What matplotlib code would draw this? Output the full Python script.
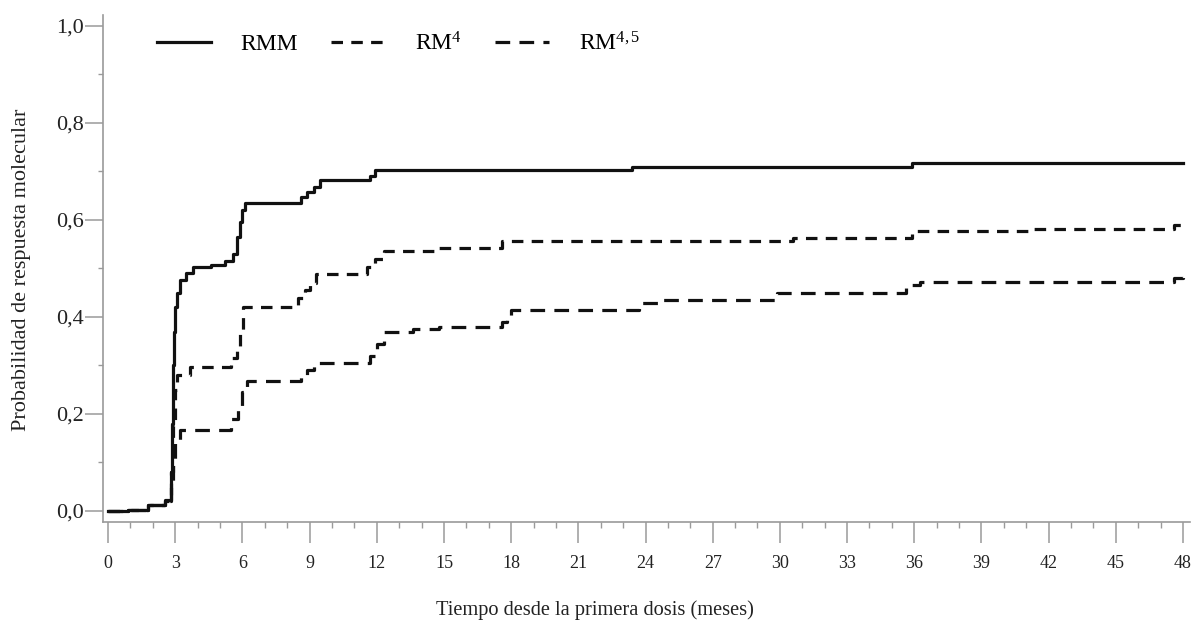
import numpy as np
import matplotlib
matplotlib.use("Agg")
import matplotlib.pyplot as plt
from matplotlib.ticker import MultipleLocator

# tiempos (meses) y probabilidad acumulada, escalones
rmm_t = [0, 0.9, 1.8, 2.55, 2.8, 2.85, 2.9, 2.95, 3.0, 3.1, 3.2, 3.5, 3.8, 4.6, 5.2,
         5.6, 5.75, 5.9, 6.0, 6.1, 8.6, 8.9, 9.2, 9.45, 11.7, 11.9, 23.4, 35.9, 48]
rmm_v = [0, 0.003, 0.012, 0.022, 0.08, 0.18, 0.30, 0.37, 0.42, 0.45, 0.477, 0.49, 0.503, 0.508, 0.515,
         0.53, 0.565, 0.595, 0.62, 0.636, 0.648, 0.658, 0.668, 0.682, 0.69, 0.703, 0.71, 0.718, 0.718]

rm4_t = [0, 0.9, 1.8, 2.55, 2.8, 2.9, 3.0, 3.1, 3.65, 5.5, 5.75, 5.9, 6.04, 8.5, 8.8, 9.0, 9.3,
         11.55, 11.9, 12.3, 14.8, 17.6, 30.6, 35.9, 41.3, 47.6, 47.9, 48]
rm4_v = [0, 0.003, 0.012, 0.02, 0.08, 0.18, 0.25, 0.28, 0.297, 0.315, 0.332, 0.37, 0.421, 0.44, 0.456, 0.47, 0.488,
         0.504, 0.52, 0.536, 0.543, 0.556, 0.563, 0.577, 0.582, 0.59, 0.598, 0.598]

rm45_t = [0, 0.9, 1.8, 2.55, 2.8, 2.9, 3.0, 3.2, 5.5, 5.8, 6.0, 6.2, 8.6, 8.9, 9.2, 11.7, 12.0, 12.3,
          13.6, 14.8, 17.6, 17.8, 18.0, 23.7, 24.6, 29.85, 35.65, 35.9, 36.25, 47.6, 48]
rm45_v = [0, 0.003, 0.012, 0.02, 0.06, 0.10, 0.14, 0.167, 0.19, 0.215, 0.245, 0.267, 0.28, 0.29, 0.305, 0.32, 0.345, 0.37,
          0.375, 0.38, 0.39, 0.40, 0.414, 0.429, 0.435, 0.449, 0.46, 0.465, 0.473, 0.48, 0.485]

etiquetas = ["RMM", "RM$^{4}$", "RM$^{4,5}$"]
xticks = np.arange(0, 49, 3)
yticks = [0.0, 0.2, 0.4, 0.6, 0.8, 1.0]

plt.rcParams["font.family"] = ["Liberation Serif", "DejaVu Serif"]
plt.rcParams["mathtext.fontset"] = "custom"
plt.rcParams["mathtext.rm"] = "Liberation Serif"
plt.rcParams["mathtext.it"] = "Liberation Serif"

fig = plt.figure(figsize=(11.97, 6.24), dpi=100)
ax = fig.add_axes([0.0861, 0.164, 0.908, 0.812])

ax.step(rmm_t, rmm_v, where="post", color="#111111", lw=2.3, label=etiquetas[0])
ax.step(rm4_t, rm4_v, where="post", color="#111111", lw=2.3, dashes=(3.6, 2.6), label=etiquetas[1])
ax.step(rm45_t, rm45_v, where="post", color="#111111", lw=2.3, dashes=(4.6, 2.9), label=etiquetas[2])

ax.set_xlim(-0.223, 48.31)
ax.set_ylim(-0.022, 1.0227)

ax.set_xticks(xticks)
ax.set_xticklabels([str(x) for x in xticks])
ax.xaxis.set_minor_locator(MultipleLocator(1))
ax.set_yticks(yticks)
ax.set_yticklabels([("%.1f" % y).replace(".", ",") for y in yticks])
ax.yaxis.set_minor_locator(MultipleLocator(0.1))

for s in ["top", "right"]:
    ax.spines[s].set_visible(False)
for s in ["left", "bottom"]:
    ax.spines[s].set_color("#9a9a9a")
    ax.spines[s].set_linewidth(1.2)

ax.tick_params(axis="x", which="major", length=15, width=1.1, color="#9a9a9a",
               labelsize=13, pad=9, labelcolor="#222222")
ax.tick_params(axis="x", which="minor", length=4.5, width=1.0, color="#9a9a9a")
ax.tick_params(axis="y", which="major", length=13, width=1.1, color="#9a9a9a",
               labelsize=16, pad=1, labelcolor="#222222")
ax.tick_params(axis="y", which="minor", length=3.5, width=1.0, color="#9a9a9a")

ax.set_xlabel("Tiempo desde la primera dosis (meses)", fontsize=14.7, color="#222222")
ax.xaxis.set_label_coords(0.4526, -0.156)
ax.set_ylabel("Probabilidad de respuesta molecular", fontsize=16, color="#222222")
ax.yaxis.set_label_coords(-0.066, 0.497)

ax.legend(loc="upper left", bbox_to_anchor=(0.03, 1.008), ncol=3, frameon=False,
          fontsize=17, handlelength=2.3, handletextpad=1.25, columnspacing=1.4)

fig.savefig("out.png", dpi=100)
